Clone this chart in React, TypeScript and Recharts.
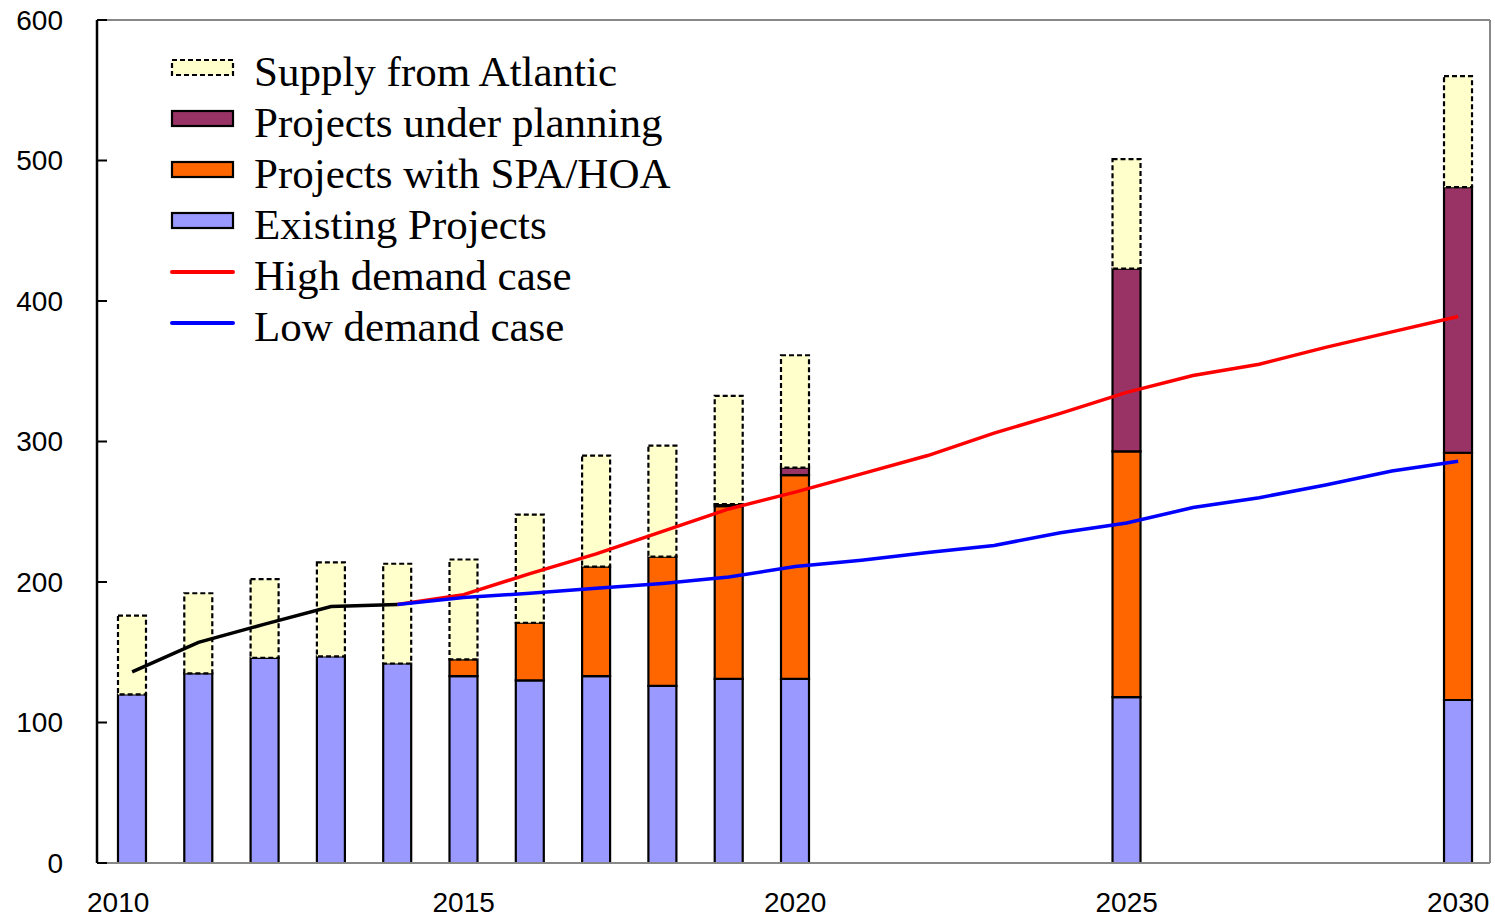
import React from 'react';
import { ComposedChart, Bar, Line, XAxis, YAxis, ReferenceLine, Legend } from 'recharts';

// bar years and stacked supply (Mtpa)
const barYears = [2010, 2011, 2012, 2013, 2014, 2015, 2016, 2017, 2018, 2019, 2020, 2025, 2030];
const existing = [120, 135, 146, 147, 142, 133, 130, 133, 126, 131, 131, 118, 116];
const spaHoa = [null, null, null, null, null, 12, 41, 78, 92, 123, 145, 175, 176];
const planning = [null, null, null, null, null, null, null, null, null, 1.5, 5.4, 130, 189];
const atlantic = [56, 57, 56, 67, 71, 71, 77, 79, 79, 77, 80, 78, 79];

// demand lines
const histYears = [2010, 2011, 2012, 2013, 2014];
const history = [136, 157, 170, 182.5, 184];
const caseYears = [2014, 2015, 2016, 2017, 2018, 2019, 2020, 2021, 2022, 2023, 2024, 2025, 2026, 2027, 2028, 2029, 2030];
const highCase = [184, 191, 206, 220, 236, 252, 264, 277, 290, 306, 320, 335, 347, 355, 367, 378, 389];
const lowCase = [184, 189, 192, 195.5, 199, 203.5, 211, 215.5, 221, 226, 235, 242, 253, 260, 269, 279, 286];

const xTicks = [2010, 2015, 2020, 2025, 2030];
const yTicks = [0, 100, 200, 300, 400, 500, 600];

const C = {
  existing: '#9999FF',
  spa: '#FF6600',
  planning: '#993366',
  atlantic: '#FFFFCC',
  high: '#FF0000',
  low: '#0000FF',
};

const legendItems = [
  { label: 'Supply from Atlantic', kind: 'box', color: C.atlantic, dashed: true },
  { label: 'Projects under planning', kind: 'box', color: C.planning },
  { label: 'Projects with SPA/HOA', kind: 'box', color: C.spa },
  { label: 'Existing Projects', kind: 'box', color: C.existing },
  { label: 'High demand case', kind: 'line', color: C.high },
  { label: 'Low demand case', kind: 'line', color: C.low },
];

const years: number[] = [];
for (let y = 2010; y <= 2030; y++) years.push(y);
const data = years.map((year) => {
  const b = barYears.indexOf(year);
  const h = histYears.indexOf(year);
  const c = caseYears.indexOf(year);
  return {
    year,
    existing: b >= 0 ? existing[b] : null,
    spa: b >= 0 ? spaHoa[b] : null,
    planning: b >= 0 ? planning[b] : null,
    atlantic: b >= 0 ? atlantic[b] : null,
    history: h >= 0 ? history[h] : null,
    high: c >= 0 ? highCase[c] : null,
    low: c >= 0 ? lowCase[c] : null,
  };
});

const font = '"Liberation Sans", Arial, sans-serif';

// the first year label sits a little left of its bar in the original
const XTick = (props: any) => {
  const { x, y, payload, index } = props;
  return (
    <text x={x + (index === 0 ? -14 : 0)} y={y} dy="0.71em" textAnchor="middle" fontSize={28} fill="#000" fontFamily={font}>
      {payload.value}
    </text>
  );
};

const renderLegend = () => (
  <div style={{ display: 'flex', flexDirection: 'column' }}>
    {legendItems.map((it) => (
      <div key={it.label} style={{ display: 'flex', alignItems: 'center', height: '51px' }}>
        <svg width={70} height={24} style={{ marginTop: '-8px', flexShrink: 0 }}>
          {it.kind === 'box' ? (
            <rect x={4} y={4} width={61} height={15} fill={it.color} stroke="#000" strokeWidth={2.2}
              strokeDasharray={it.dashed ? '5 3' : undefined} />
          ) : (
            <line x1={4} x2={65} y1={12} y2={12} stroke={it.color} strokeWidth={4} strokeLinecap="round" />
          )}
        </svg>
        <span style={{ fontFamily: '"Liberation Serif", "Times New Roman", serif', fontSize: '43px', color: '#000', marginLeft: '16px', whiteSpace: 'nowrap', lineHeight: '51px' }}>
          {it.label}
        </span>
      </div>
    ))}
  </div>
);

export default function App() {
  return (
    <div style={{ position: 'fixed', left: 0, top: 0, width: 1495, height: 917, background: '#fff' }}>
      <ComposedChart width={1495} height={917} data={data} margin={{ top: 20, right: 5, left: 0, bottom: 0 }}>
        <XAxis dataKey="year" type="number" domain={[2009.47, 2030.48]} ticks={xTicks} allowDataOverflow
          axisLine={{ stroke: '#888', strokeWidth: 2 }} tickLine={false} tickSize={6} tickMargin={23} height={54}
          tick={<XTick />} />
        <YAxis type="number" domain={[0, 600]} ticks={yTicks} width={97}
          axisLine={{ stroke: '#000', strokeWidth: 2.5 }} tickLine={{ stroke: '#000', strokeWidth: 2 }}
          tickSize={-10} tickMargin={44}
          tick={{ fontSize: 28, fill: '#000', fontFamily: font }} />
        <ReferenceLine y={600} stroke="#888" strokeWidth={2} />
        <ReferenceLine x={2030.48} stroke="#888" strokeWidth={2} />
        <Legend layout="vertical" align="center" verticalAlign="middle" content={renderLegend}
          wrapperStyle={{ top: 46, left: 168, width: 560, height: 310 }} />
        <Bar dataKey="existing" stackId="s" barSize={28} fill={C.existing} stroke="#000" strokeWidth={2.2} isAnimationActive={false} />
        <Bar dataKey="spa" stackId="s" barSize={28} fill={C.spa} stroke="#000" strokeWidth={2.2} isAnimationActive={false} />
        <Bar dataKey="planning" stackId="s" barSize={28} fill={C.planning} stroke="#000" strokeWidth={2.2} isAnimationActive={false} />
        <Bar dataKey="atlantic" stackId="s" barSize={28} fill={C.atlantic} stroke="#000" strokeWidth={2.2} strokeDasharray="5 3" isAnimationActive={false} />
        <Line dataKey="high" type="linear" stroke={C.high} strokeWidth={3.5} dot={false} isAnimationActive={false} />
        <Line dataKey="low" type="linear" stroke={C.low} strokeWidth={3.5} dot={false} isAnimationActive={false} />
        <Line dataKey="history" type="linear" stroke="#000" strokeWidth={3.5} dot={false} isAnimationActive={false} />
      </ComposedChart>
    </div>
  );
}
